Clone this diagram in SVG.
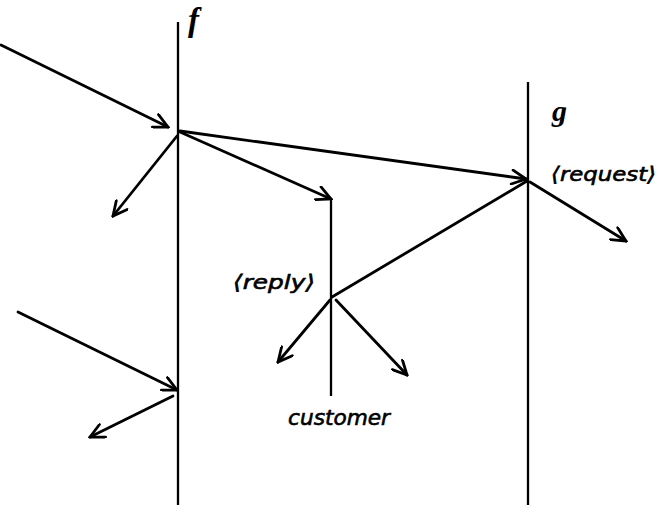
<svg xmlns="http://www.w3.org/2000/svg" width="657" height="505" viewBox="0 0 657 505">
<defs>
<style>
.life{stroke:#000;stroke-width:2.3;fill:none}
.msg{stroke:#000;stroke-width:2.8;fill:none;stroke-linecap:round;marker-end:url(#ah)}
.plain{stroke:#000;stroke-width:2.8;fill:none;stroke-linecap:round}
.name{font-family:"Liberation Serif",serif;font-style:italic;font-weight:bold;fill:#000}
.lbl{font-family:"DejaVu Sans","Noto Sans",sans-serif;font-style:italic;fill:#000;stroke:#000;stroke-width:0.6}
</style>
<marker id="ah" viewBox="-16 -8 18 16" refX="0" refY="0" markerWidth="18" markerHeight="16" markerUnits="userSpaceOnUse" orient="auto">
<path d="M-14,-7 L0,0 L-14,7" fill="none" stroke="#000" stroke-width="2.8" stroke-linecap="round" stroke-linejoin="miter"/>
</marker>
</defs>
<g id="f">
<line class="life" x1="178" y1="22" x2="178" y2="505"/>
<text class="name" x="188" y="31" font-size="33">f</text>
</g>
<g id="g">
<line class="life" x1="528" y1="82" x2="528" y2="505"/>
<text class="name" x="552" y="121" font-size="30">g</text>
<text class="lbl" x="551" y="181" font-size="20" textLength="105" lengthAdjust="spacingAndGlyphs">⟨request⟩</text>
</g>
<g id="customer">
<line class="life" x1="331" y1="198" x2="331" y2="396"/>
<text class="lbl" x="233" y="289" font-size="20" textLength="82" lengthAdjust="spacingAndGlyphs">⟨reply⟩</text>
<text class="lbl" x="288" y="425" font-size="21" textLength="102" lengthAdjust="spacingAndGlyphs">customer</text>
</g>
<g id="connectors">
<line class="msg" x1="1" y1="45" x2="168" y2="127"/>
<line class="msg" x1="180" y1="131" x2="526" y2="179"/>
<line class="msg" x1="180" y1="132" x2="331" y2="199"/>
<line class="msg" x1="177" y1="136" x2="113" y2="216"/>
<line class="msg" x1="530" y1="182" x2="626" y2="241"/>
<line class="plain" x1="332" y1="297" x2="527" y2="181"/>
<line class="msg" x1="330" y1="300" x2="278" y2="362"/>
<line class="msg" x1="336" y1="300" x2="407" y2="375"/>
<line class="msg" x1="18" y1="312" x2="177" y2="390"/>
<line class="msg" x1="173" y1="396" x2="90" y2="437"/>
</g>
</svg>
